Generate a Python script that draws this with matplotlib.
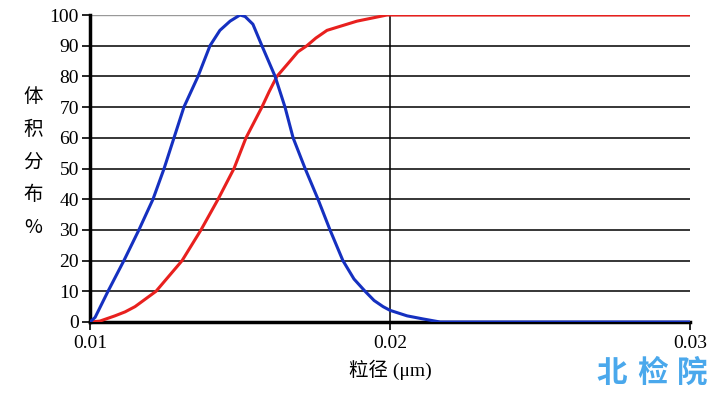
import matplotlib.pyplot as plt
import numpy as np

plt.rcParams['font.family'] = ['Liberation Serif', 'Noto Sans CJK SC']

# particle size (um) and volume distribution (%)
blue_x = [0.0100, 0.01017, 0.0106, 0.01113, 0.01163, 0.0121, 0.01247, 0.0128,
          0.01313, 0.0136, 0.0140, 0.01433, 0.01467, 0.0150, 0.01517, 0.01543,
          0.01573, 0.01617, 0.0165, 0.01677, 0.01717, 0.0176, 0.0180, 0.01843,
          0.0188, 0.01917, 0.01947, 0.01977, 0.0200, 0.02057, 0.0211, 0.02167, 0.0300]
blue_y = [0, 1.5, 10, 20, 30, 40, 50, 60, 70, 80, 90, 95, 98, 100, 99.5, 97,
          90, 80, 70, 60, 50, 40, 30, 20, 14, 10, 7, 5, 3.8, 2, 1, 0, 0]

red_x = [0.0100, 0.01033, 0.01083, 0.01117, 0.0115, 0.0122, 0.01307, 0.0137,
         0.01427, 0.0148, 0.0152, 0.01573, 0.01597, 0.01623, 0.01667, 0.01693,
         0.01723, 0.01753, 0.0179, 0.0189, 0.0194, 0.0199, 0.0300]
red_y = [0, 0.3, 2, 3.3, 5, 10, 20, 30, 40, 50, 60, 70, 75, 80, 85, 88, 90,
         92.5, 95, 98, 99, 100, 100]

yticks = [0, 10, 20, 30, 40, 50, 60, 70, 80, 90, 100]
xticks = [0.01, 0.02, 0.03]
xtick_labels = ['0.01', '0.02', '0.03']

fig = plt.figure(figsize=(7.21, 3.97), dpi=100)
ax = fig.add_axes([90 / 721, 75 / 397, 600 / 721, 307 / 397])

# horizontal grid lines
for v in yticks[:-1]:
    ax.axhline(v, color='black', lw=1.1, zorder=1)
ax.axhline(100, color='#999999', lw=1.0, zorder=1)
ax.axvline(0.02, color='black', lw=1.1, zorder=1)

ax.plot(red_x, red_y, color='#e8201e', lw=2.2, zorder=3, solid_joinstyle='round')
ax.plot(blue_x, blue_y, color='#1530c0', lw=2.2, zorder=4, solid_joinstyle='round')

ax.set_xlim(0.01, 0.03)
ax.set_ylim(0, 100)
ax.set_xticks(xticks)
ax.set_xticklabels(xtick_labels)
ax.set_yticks(yticks)
ax.tick_params(axis='both', labelsize=14, length=6, width=1.2, direction='out', pad=3)
ax.tick_params(axis='y', pad=2)

for s in ['top', 'right']:
    ax.spines[s].set_visible(False)
ax.spines['left'].set_linewidth(2.5)
ax.spines['bottom'].set_linewidth(2.5)

ax.set_xlabel('粒径 (μm)', fontsize=14, labelpad=6)
fig.text(33 / 721, 1 - 162 / 397, '体\n积\n分\n布\n%', fontsize=14, ha='center', va='center',
         linespacing=1.72, family=['Noto Sans CJK SC', 'Liberation Serif'])

for i, ch in enumerate('北检院'):
    fig.text((612 + i * 40) / 721, 1 - 373 / 397, ch, fontsize=22, fontweight='bold',
             color='#4aa8ec', ha='center', va='center', family='Noto Sans CJK SC')

fig.savefig('out.png', dpi=100)
